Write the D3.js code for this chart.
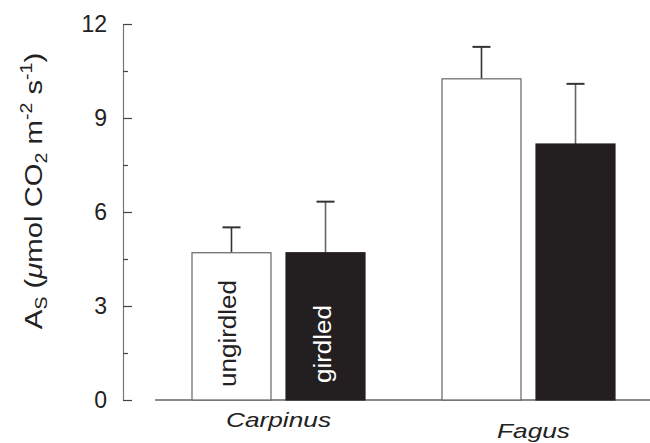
<!DOCTYPE html>
<head>
  <script src="https://cdn.jsdelivr.net/npm/d3@7"></script>
  <title>Stem CO2 efflux</title>
  <style>
    html, body { margin: 0; background: #fff; }
    svg text { font-family: "Liberation Sans", Arial, Helvetica, sans-serif; fill: #222; }
  </style>
</head>
<body>
<div id="chart"></div>
<script>
  // data
  const species = ["Carpinus", "Fagus"];
  const treatments = ["ungirdled", "girdled"];
  const means = [[4.70, 4.70], [10.25, 8.17]];
  const errs = [[0.81, 1.63], [1.02, 1.92]];
  const yTicks = [0, 3, 6, 9, 12];
  const yMinor = [1.5, 4.5, 7.5, 10.5];

  const width = 650, height = 443;
  const svg = d3.select("#chart").append("svg").attr("width", width).attr("height", height);

  const y = d3.scaleLinear().domain([0, 12]).range([400, 24]);
  const x0 = d3.scaleBand().domain(species).range([155, 652]).paddingInner(0.308).paddingOuter(0.148);
  const x1 = d3.scaleBand().domain(treatments).range([0, x0.bandwidth()]).paddingInner(0.16);
  const fills = { ungirdled: "#fff", girdled: "#231f20" };

  // y axis, ticks point inward
  const axisX = 123;
  const yAxis = svg.append("g").attr("transform", `translate(${axisX},0)`)
    .call(d3.axisLeft(y).tickValues(yTicks).tickSizeInner(-9).tickSizeOuter(0).tickPadding(16));
  yAxis.select(".domain").attr("stroke", "#777").attr("stroke-width", 1.2);
  yAxis.selectAll(".tick line").attr("stroke", "#444").attr("stroke-width", 1.2);
  yAxis.selectAll(".tick text").attr("font-size", 23).attr("fill", "#222")
    .attr("font-family", "Liberation Sans, Arial, sans-serif");
  const yAxisMinor = svg.append("g").attr("transform", `translate(${axisX},0)`)
    .call(d3.axisLeft(y).tickValues(yMinor).tickSize(-5).tickFormat(""));
  yAxisMinor.select(".domain").remove();
  yAxisMinor.selectAll(".tick line").attr("stroke", "#444").attr("stroke-width", 1.2);

  // baseline
  svg.append("line").attr("x1", 155).attr("x2", 650)
    .attr("y1", y(0)).attr("y2", y(0)).attr("stroke", "#666").attr("stroke-width", 1.5);

  const rows = [];
  species.forEach((s, i) => treatments.forEach((t, j) =>
    rows.push({ s, t, v: means[i][j], e: errs[i][j] })));

  const bx = d => x0(d.s) + x1(d.t);
  const cx = d => bx(d) + x1.bandwidth() / 2;

  // error bars (upper only)
  const eb = svg.append("g").attr("stroke", "#333").attr("stroke-width", 1.6);
  eb.selectAll("line.v").data(rows).join("line").attr("class", "v")
    .attr("x1", cx).attr("x2", cx).attr("y1", d => y(d.v)).attr("y2", d => y(d.v + d.e))
    .attr("stroke", d => d.t === "girdled" ? "#666" : "#333");
  eb.selectAll("line.cap").data(rows).join("line").attr("class", "cap")
    .attr("x1", d => cx(d) - 9).attr("x2", d => cx(d) + 9)
    .attr("y1", d => y(d.v + d.e)).attr("y2", d => y(d.v + d.e)).attr("stroke-width", 2);

  // bars
  svg.append("g").selectAll("rect").data(rows).join("rect")
    .attr("x", bx).attr("width", x1.bandwidth())
    .attr("y", d => y(d.v)).attr("height", d => y(0) - y(d.v))
    .attr("fill", d => fills[d.t])
    .attr("stroke", d => d.t === "girdled" ? "#231f20" : "#666").attr("stroke-width", 1.2);

  // in-bar treatment labels (first species only)
  const lab = rows.filter(d => d.s === species[0]);
  svg.append("g").selectAll("text").data(lab).join("text")
    .attr("transform", d => `translate(${cx(d) + 5},${d.t === "girdled" ? 383 : 387}) rotate(-90)`)
    .attr("font-size", 23)
    .attr("textLength", d => d.t === "girdled" ? 78 : 107).attr("lengthAdjust", "spacingAndGlyphs")
    .style("fill", d => d.t === "girdled" ? "#fff" : "#222")
    .text(d => d.t);

  // species labels
  svg.append("g").selectAll("text").data(species).join("text")
    .attr("x", (d, i) => x0(d) + x0.bandwidth() / 2 + (i ? 5 : 0))
    .attr("y", (d, i) => i ? 438 : 427)
    .attr("text-anchor", "middle").attr("font-size", 21).attr("font-style", "italic")
    .attr("textLength", (d, i) => i ? 73 : 105).attr("lengthAdjust", "spacingAndGlyphs")
    .text(d => d);

  // y title
  const tt = svg.append("g").attr("transform", "translate(42,191) rotate(-90) scale(1.22,1)")
    .append("text").attr("text-anchor", "middle").attr("font-size", 24);
  tt.append("tspan").text("A");
  tt.append("tspan").attr("font-size", 16).attr("dy", 5).text("S");
  tt.append("tspan").attr("dy", -5).text(" (");
  tt.append("tspan").attr("font-style", "italic").text("\u03bc");
  tt.append("tspan").text("mol CO");
  tt.append("tspan").attr("font-size", 16).attr("dy", 5).text("2");
  tt.append("tspan").attr("dy", -5).text(" m");
  tt.append("tspan").attr("font-size", 16).attr("dy", -10).text("-2");
  tt.append("tspan").attr("dy", 10).text(" s");
  tt.append("tspan").attr("font-size", 16).attr("dy", -10).text("-1");
  tt.append("tspan").attr("dy", 10).text(")");
</script>
</body>
